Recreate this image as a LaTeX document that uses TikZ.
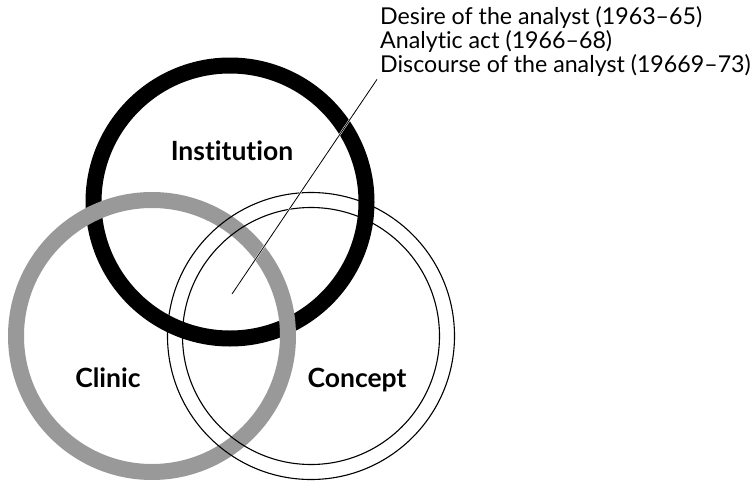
\documentclass[tikz,border=0pt]{standalone}
\usepackage{fontspec}
\setmainfont{Lato}[Ligatures=NoCommon]
\usepackage{tikz}
\definecolor{clinicgrey}{HTML}{999999}

\begin{document}
\begin{tikzpicture}[x=1pt, y=-1pt,
  lbl/.style={font=\fontsize{26.5}{30}\selectfont\bfseries, inner sep=0pt, anchor=base}]
\useasboundingbox (0,0) rectangle (753,482);
% centres of the three rings
\coordinate (inst) at (230,202);
\coordinate (clin) at (152,336);
\coordinate (conc) at (311,336);
% Institution (black), Clinic (grey) over it, Concept (double line) on top
\draw[black, line width=16pt] (inst) circle[radius=136.5];
\draw[clinicgrey, line width=16pt] (clin) circle[radius=136];
\draw[black, line width=1.1pt] (conc) circle[radius=143.5];
\draw[black, line width=1.1pt] (conc) circle[radius=128.5];
\node[lbl] (institution) at (232,160) {Institution};
\node[lbl] (clinic) at (108,387) {Clinic};
\node[lbl] (concept) at (357,387) {Concept};
\node[font=\fontsize{23.2}{24}\selectfont, align=left, anchor=north west, inner sep=3pt]
  (notes) at (377,3) {Desire of the analyst (1963--65)\\Analytic act (1966--68)\\Discourse of the analyst (19669--73)};
% leader from the common area up to the notes
\coordinate (tip) at (232,294);
\draw[white, line width=1.8pt] (tip) -- (notes.south west);
\draw[black, line width=0.8pt] (tip) -- (notes.south west);
\end{tikzpicture}
\end{document}
